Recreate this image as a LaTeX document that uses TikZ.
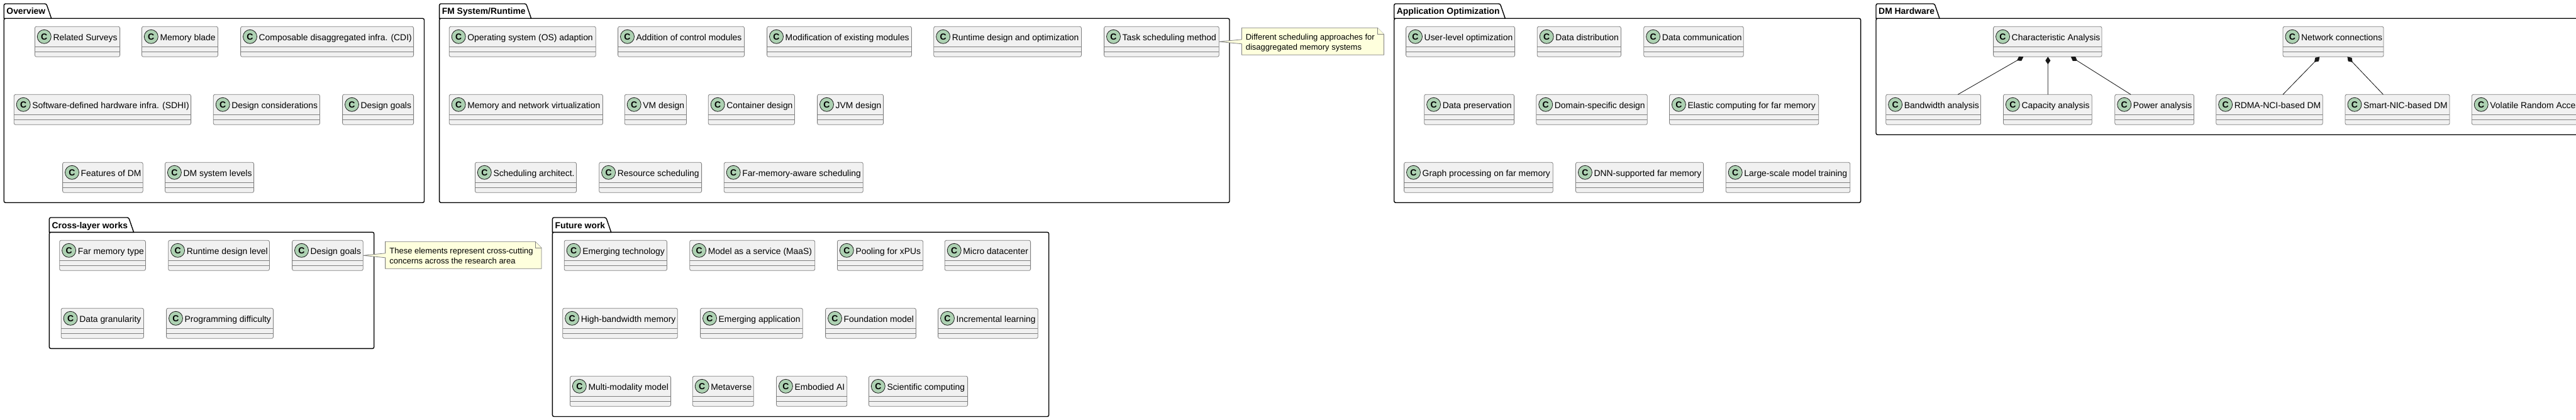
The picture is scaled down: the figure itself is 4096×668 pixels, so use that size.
\documentclass[tikz,border=0pt]{standalone}
\usepackage{fontspec}
\setmainfont{Liberation Sans}
\usetikzlibrary{arrows.meta}
\definecolor{clsfill}{HTML}{F1F1F1}
\definecolor{clsline}{HTML}{181818}
\definecolor{clsgray}{HTML}{7F7F7F}
\definecolor{clsmarkfill}{HTML}{ADD1B2}
\definecolor{notefill}{HTML}{FEFFDD}
\newcommand{\pkg}[7]{%
  \draw[pkgline,rounded corners=2.5pt] (#2,#5) rectangle (#4,#6);
  \draw[pkgline] (#2,#5) [rounded corners=2.5pt] -- (#2,{#5-23.3}) -- ({#3-8},{#5-23.3}) [sharp corners] -- (#3,#5) -- cycle;
  \node[pkgtitle] (#1) at ({#2+4},{#5-6.3}) {#7};}
\newcommand{\cls}[5]{%
  \node[clsbox,minimum width={(#3-#2)*1pt}] (#1) at ({(#2+#3)/2},{#4+24}) {};
  \draw[clsrule] ([yshift=-32pt]#1.north west) -- ([yshift=-32pt]#1.north east);
  \draw[clsrule] ([yshift=-40pt]#1.north west) -- ([yshift=-40pt]#1.north east);
  \node[clsmark] (#1C) at ([shift={(14.9pt,-16pt)}]#1.north west) {C};
  \node[clstext] (#1T) at ([shift={(28.9pt,-22pt)}]#1.north west) {#5};}
\newcommand{\umlnote}[5]{%
  \node[noteframe,minimum width={(#3-#2)*1pt}] (#1) at ({(#2+#3)/2},{#4+21.5}) {};
  \draw[noteline] (#1.north west) -- ([xshift=-10pt]#1.north east) -- ([yshift=-10pt]#1.north east)
    -- (#1.south east) -- (#1.south west) -- ([yshift=-25.5pt]#1.north west) -- (#5.east)
    -- ([yshift=-18.5pt]#1.north west) -- cycle;
  \draw[noteline] ([xshift=-10pt]#1.north east) -- ([shift={(-10pt,-10pt)}]#1.north east) -- ([yshift=-10pt]#1.north east);}
\begin{document}
\begin{tikzpicture}[x=1pt,y=-1pt,
    pkgline/.style={draw=black,line width=1.4pt,fill=white},
    pkgtitle/.style={anchor=base west,inner sep=0pt,font=\fontsize{13.9}{16}\selectfont\bfseries},
    clsbox/.style={draw=clsgray,line width=0.8pt,fill=clsfill,rounded corners=2.5pt,
      minimum height=48pt,inner sep=0pt,outer sep=0pt},
    clsrule/.style={draw=clsgray,line width=0.8pt},
    clsmark/.style={circle,draw=clsline,line width=0.8pt,fill=clsmarkfill,minimum size=22pt,inner sep=0pt,
      font=\fontsize{14}{16}\selectfont\bfseries},
    clstext/.style={anchor=base west,inner sep=0pt,font=\fontsize{13.9}{16}\selectfont},
    noteframe/.style={minimum height=43pt,inner sep=0pt,outer sep=0pt},
    noteline/.style={draw=clsgray,line width=0.8pt,fill=notefill},
    notetext/.style={anchor=base west,inner sep=0pt,font=\fontsize{13}{16}\selectfont},
    compo/.style={{Diamond[length=12pt,width=8pt]}-,draw=clsline,fill=clsline,line width=0.8pt}]
  \path[use as bounding box,fill=white] (0,0) rectangle (4096,668);
  \clip (0,0) rectangle (4096,668);
  \pkg{overview}{6.25}{81.7}{674.5}{29.3}{322.3}{Overview}
  \cls{relSurveys}{55.4}{190.6}{42.3}{Related Surveys}
  \cls{memBlade}{225.4}{346.4}{42.3}{Memory blade}
  \cls{cdi}{382.6}{657.6}{42.3}{Composable disaggregated infra. (CDI)}
  \cls{sdhi}{22.3}{303.6}{150.3}{Software-defined hardware infra. (SDHI)}
  \cls{designCons}{339.3}{508.5}{150.3}{Design considerations}
  \cls{ovGoals}{544.6}{657.6}{150.3}{Design goals}
  \cls{dmFeatures}{99.6}{227.2}{258.3}{Features of DM}
  \cls{dmLevels}{262.5}{403.6}{258.3}{DM system levels}
  \pkg{fmSystem}{698.6}{844.6}{1955}{29.3}{322.3}{FM System/Runtime}
  \cls{osAdapt}{714.3}{947.3}{42.3}{Operating system (OS) adaption}
  \cls{ctrlMods}{982.6}{1183.5}{42.3}{Addition of control modules}
  \cls{modExist}{1219.6}{1449.5}{42.3}{Modification of existing modules}
  \cls{runDesign}{1484.7}{1719.4}{42.3}{Runtime design and optimization}
  \cls{taskSched}{1755.6}{1938.3}{42.3}{Task scheduling method}
  \cls{memVirt}{714.3}{958.5}{150.3}{Memory and network virtualization}
  \cls{vmDesign}{993.3}{1091.5}{150.3}{VM design}
  \cls{contDesign}{1126.3}{1263.4}{150.3}{Container design}
  \cls{jvmDesign}{1299.6}{1404.6}{150.3}{JVM design}
  \cls{schedArch}{755.4}{916.5}{258.3}{Scheduling architect.}
  \cls{resSched}{952.7}{1115.6}{258.3}{Resource scheduling}
  \cls{farSched}{1151.3}{1372.3}{258.3}{Far-memory-aware scheduling}
  \umlnote{schedNote}{1974.5}{2200.4}{44.3}{taskSched}
  \node[notetext,align=left] (schedNoteT) at (1980.6,79.3) {Different scheduling approaches for\\disaggregated memory systems};
  \pkg{appOpt}{2216.7}{2393.3}{2958.6}{29.3}{322.3}{Application Optimization}
  \cls{userOpt}{2235.6}{2408.6}{42.3}{User-level optimization}
  \cls{dataDist}{2444.3}{2577.4}{42.3}{Data distribution}
  \cls{dataComm}{2613.7}{2772.3}{42.3}{Data communication}
  \cls{dataPres}{2264.7}{2407.6}{150.3}{Data preservation}
  \cls{domDesign}{2442.8}{2619.3}{150.3}{Domain-specific design}
  \cls{elastic}{2654.5}{2891.7}{150.3}{Elastic computing for far memory}
  \cls{graphProc}{2232.6}{2469.3}{258.3}{Graph processing on far memory}
  \cls{dnnFar}{2505.5}{2708.6}{258.3}{DNN-supported far memory}
  \cls{largeTrain}{2744.3}{2941.7}{258.3}{Large-scale model training}
  \pkg{dmHw}{2983}{3084}{4175}{29.3}{214.3}{DM Hardware}
  \cls{charAna}{3169.6}{3342}{42.3}{Characteristic Analysis}
  \cls{netConn}{3630}{3790}{42.3}{Network connections}
  \cls{bandwidth}{2998.7}{3149.5}{150.3}{Bandwidth analysis}
  \cls{capacity}{3185.4}{3326.2}{150.3}{Capacity analysis}
  \cls{power}{3362.8}{3488.5}{150.3}{Power analysis}
  \cls{rdmaDm}{3523.7}{3693.2}{150.3}{RDMA-NCI-based DM}
  \cls{smartDm}{3729}{3895}{150.3}{Smart-NIC-based DM}
  \cls{volatile}{3930.3}{4160}{150.3}{Volatile Random Access Memory}
  \draw[compo] ([xshift=-38.4pt]charAna.south) -- ([xshift=39pt]bandwidth.north);
  \draw[compo] ([xshift=0.5pt]charAna.south) -- ([xshift=0.5pt]capacity.north);
  \draw[compo] ([xshift=37pt]charAna.south) -- ([xshift=-37.6pt]power.north);
  \draw[compo] ([xshift=-21.7pt]netConn.south) -- ([xshift=21.5pt]rdmaDm.north);
  \draw[compo] ([xshift=22.4pt]netConn.south) -- ([xshift=-22.6pt]smartDm.north);
  \pkg{crossLayer}{78.4}{212.6}{594.7}{369.3}{554.4}{Cross-layer works}
  \cls{farType}{94.7}{231.4}{382.3}{Far memory type}
  \cls{runLevel}{267.7}{428.4}{382.3}{Runtime design level}
  \cls{crossGoals}{464.6}{577.3}{382.3}{Design goals}
  \cls{dataGran}{97.2}{228.4}{490.3}{Data granularity}
  \cls{progDiff}{264.6}{434.5}{490.3}{Programming difficulty}
  \umlnote{crossNote}{612.6}{861}{384.3}{crossGoals}
  \node[notetext,align=left] (crossNoteT) at (619.2,419.3) {These elements represent cross-cutting\\concerns across the research area};
  \pkg{future}{878.4}{971.7}{1667.7}{369.3}{662.5}{Future work}
  \cls{emTech}{897.2}{1060.5}{382.3}{Emerging technology}
  \cls{maas}{1096.7}{1295.7}{382.3}{Model as a service (MaaS)}
  \cls{pooling}{1331.4}{1467.7}{382.3}{Pooling for xPUs}
  \cls{microDc}{1502.3}{1638.6}{382.3}{Micro datacenter}
  \cls{hbMem}{894.7}{1077.3}{490.3}{High-bandwidth memory}
  \cls{emApp}{1113.6}{1276.3}{490.3}{Emerging application}
  \cls{foundModel}{1312.6}{1456.4}{490.3}{Foundation model}
  \cls{incLearn}{1491.6}{1650.3}{490.3}{Incremental learning}
  \cls{multiModel}{906.4}{1066.6}{598.3}{Multi-modality model}
  \cls{metaverse}{1101.3}{1198.3}{598.3}{Metaverse}
  \cls{embodied}{1234.5}{1346.7}{598.3}{Embodied AI}
  \cls{sciComp}{1381.4}{1538.6}{598.3}{Scientific computing}
\end{tikzpicture}
\end{document}
